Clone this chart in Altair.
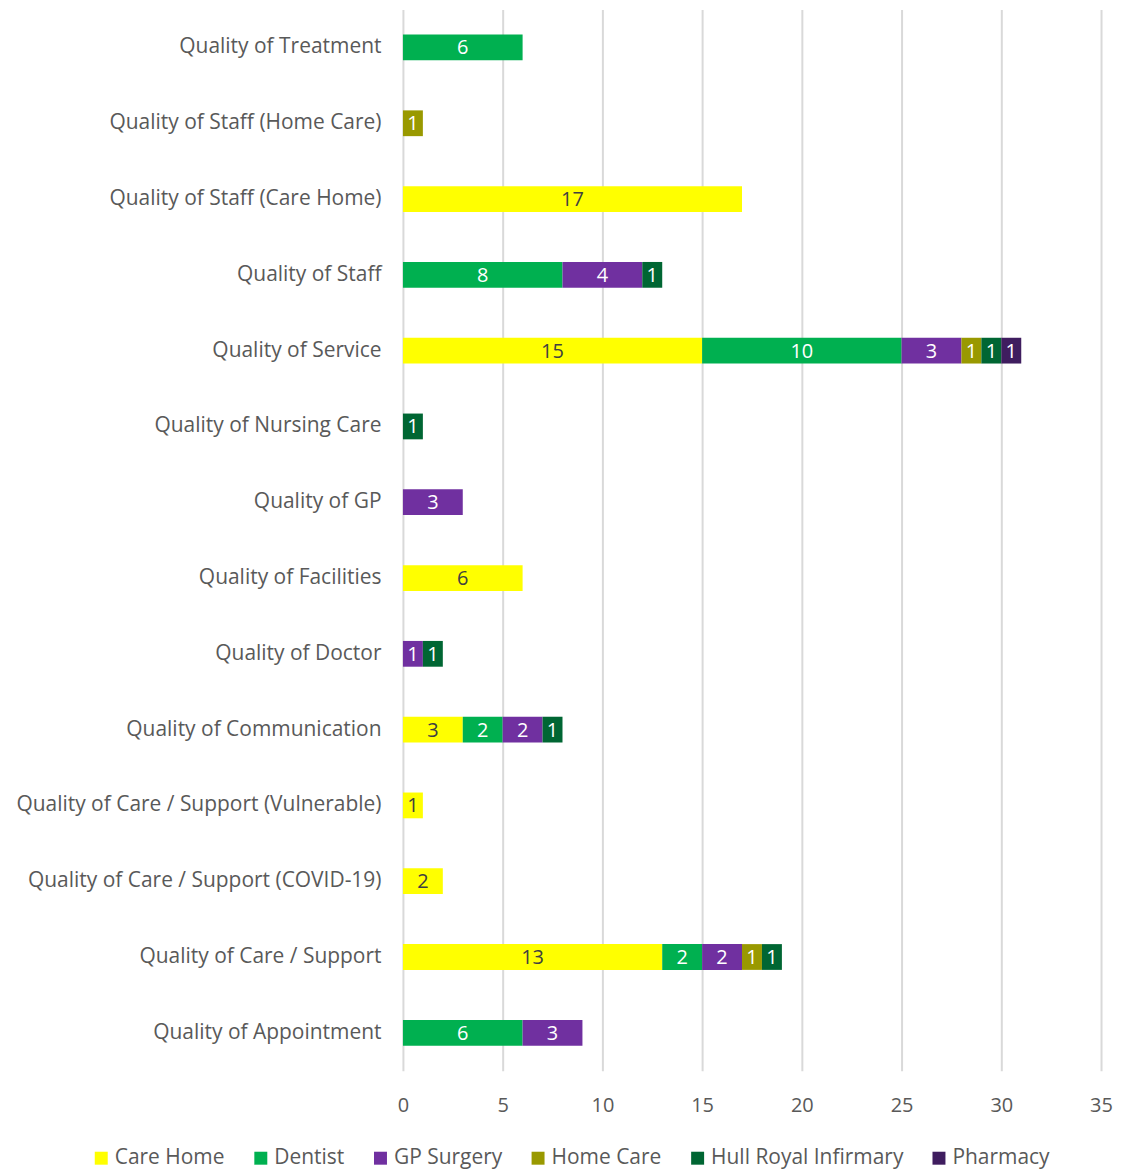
import altair as alt
import pandas as pd

categories = [
    "Quality of Treatment",
    "Quality of Staff (Home Care)",
    "Quality of Staff (Care Home)",
    "Quality of Staff",
    "Quality of Service",
    "Quality of Nursing Care",
    "Quality of GP",
    "Quality of Facilities",
    "Quality of Doctor",
    "Quality of Communication",
    "Quality of Care / Support (Vulnerable)",
    "Quality of Care / Support (COVID-19)",
    "Quality of Care / Support",
    "Quality of Appointment",
]
series = ["Care Home", "Dentist", "GP Surgery", "Home Care", "Hull Royal Infirmary", "Pharmacy"]
colors = ["#FFFF00", "#00B050", "#7030A0", "#999900", "#006633", "#3F1D5F"]

care_home = [0, 0, 17, 0, 15, 0, 0, 6, 0, 3, 1, 2, 13, 0]
dentist   = [6, 0, 0, 8, 10, 0, 0, 0, 0, 2, 0, 0, 2, 6]
gp        = [0, 0, 0, 4, 3, 0, 3, 0, 1, 2, 0, 0, 2, 3]
home_care = [0, 1, 0, 0, 1, 0, 0, 0, 0, 0, 0, 0, 1, 0]
hull      = [0, 0, 0, 1, 1, 1, 0, 0, 1, 1, 0, 0, 1, 0]
pharmacy  = [0, 0, 0, 0, 1, 0, 0, 0, 0, 0, 0, 0, 0, 0]

values = [care_home, dentist, gp, home_care, hull, pharmacy]
rows = []
for si, (s, vals) in enumerate(zip(series, values)):
    for c, v in zip(categories, vals):
        if v > 0:
            rows.append({"category": c, "series": s, "order": si, "value": v})
df = pd.DataFrame(rows)

FONT = "Open Sans"
GREY = "#595959"

base = alt.Chart(df).transform_stack(
    stack="value", groupby=["category"], as_=["x0", "x1"],
    sort=[alt.SortField("order", order="ascending")]
).transform_calculate(mid="(datum.x0 + datum.x1) / 2")

y_enc = alt.Y("category:N", sort=categories, title=None,
              scale=alt.Scale(paddingInner=0.66, paddingOuter=0.33),
              axis=alt.Axis(labelFont=FONT, labelFontSize=21, labelColor=GREY,
                            labelPadding=22, ticks=False, domain=False, labelLimit=500))

bars = base.mark_bar().encode(
    x=alt.X("x0:Q", title=None,
            scale=alt.Scale(domain=[0, 35]),
            axis=alt.Axis(values=list(range(0, 36, 5)), labelFont=FONT, labelFontSize=20,
                          labelColor=GREY, labelPadding=25, ticks=False, domain=False,
                          labelFlush=False,
                          grid=True, gridColor="#D9D9D9", gridWidth=2)),
    x2="x1:Q",
    y=y_enc,
    color=alt.Color("series:N", sort=series,
                    scale=alt.Scale(domain=series, range=colors),
                    legend=alt.Legend(title=None, orient="none", direction="horizontal",
                                      columns=6, legendX=-313, legendY=1141,
                                      labelFont=FONT, labelFontSize=21, labelColor=GREY,
                                      labelLimit=400,
                                      symbolType="square", symbolSize=169,
                                      symbolStrokeWidth=0, labelOffset=3,
                                      columnPadding=25)),
)

text = base.mark_text(font=FONT, fontSize=20, dy=1).encode(
    x=alt.X("mid:Q"),
    y=alt.Y("category:N", sort=categories),
    text=alt.Text("value:Q"),
    color=alt.condition(alt.datum.series == "Care Home", alt.value("#404040"), alt.value("#FFFFFF")),
)

chart = alt.layer(bars, text).properties(
    width=700, height=1064,
    padding={"left": 7, "top": 0, "right": 0, "bottom": 0},
).configure_view(stroke=None).configure_axis(grid=False).configure_axisX(grid=True)

chart.save("out.html", embed_options={"renderer": "svg", "actions": False})
